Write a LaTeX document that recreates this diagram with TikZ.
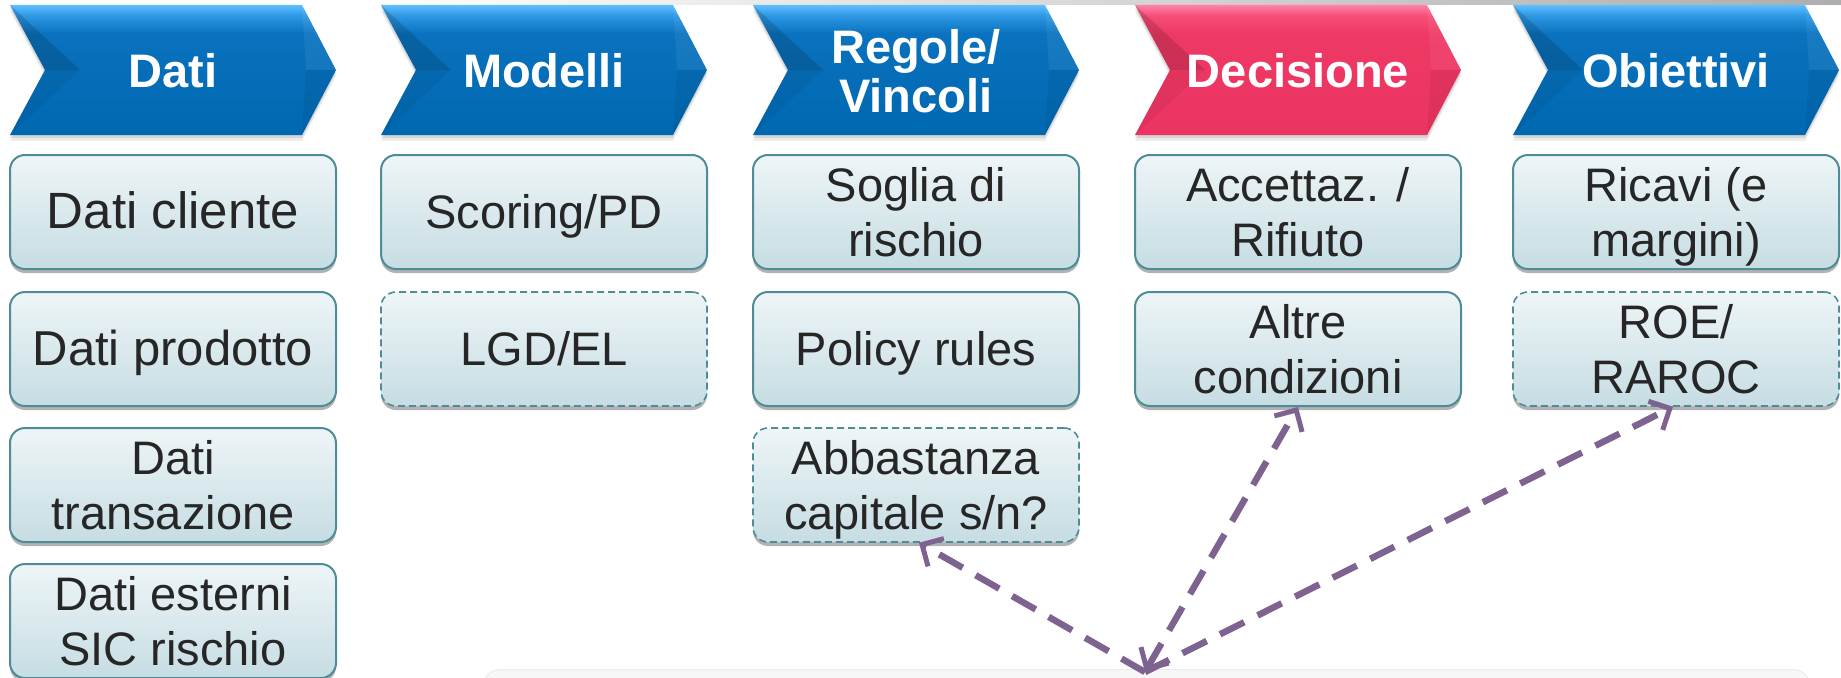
\documentclass[tikz,border=0pt]{standalone}
\usepackage{fontspec}
\setmainfont{Liberation Sans}
\usetikzlibrary{arrows.meta,shadows,calc}

\definecolor{bluetop}{HTML}{5FBFFF}
\definecolor{bluemid}{HTML}{2E98E4}
\definecolor{bluemain}{HTML}{0A72BE}
\definecolor{bluelow}{HTML}{0068B0}
\definecolor{pinktop}{HTML}{FF82AA}
\definecolor{pinkmid}{HTML}{F54E78}
\definecolor{pinkmain}{HTML}{EF3965}
\definecolor{pinklow}{HTML}{EB3461}
\definecolor{boxtop}{HTML}{EEF5F7}
\definecolor{boxbot}{HTML}{C6DDE3}
\definecolor{boxline}{HTML}{4E8C97}
\definecolor{boxtext}{HTML}{262626}
\definecolor{linkc}{HTML}{7E628F}

% glossy band along the top edge of the step arrows
\pgfdeclareverticalshading{bluechev}{100bp}{color(0bp)=(bluelow); color(25bp)=(bluelow);
  color(64bp)=(bluemain); color(71bp)=(bluemid); color(75bp)=(bluetop); color(100bp)=(bluetop)}
\pgfdeclareverticalshading{pinkchev}{100bp}{color(0bp)=(pinklow); color(25bp)=(pinklow);
  color(64bp)=(pinkmain); color(71bp)=(pinkmid); color(75bp)=(pinktop); color(100bp)=(pinktop)}

% a text line whose box is exactly one cap height tall
\newcommand\capl[1]{\rule{0pt}{33pt}\smash{#1}}

% step arrow: #1 left edge, #2 node name, #3 label, #4 shading
\newcommand\stepchevron[4]{%
  \begin{scope}[shift={(#1,0)}]
    \fill[black, opacity=.07] (0,11) -- (292,11) -- (326,76) -- (292,141) -- (0,141) -- (35,76) -- cycle;
    \fill[black, opacity=.10] (0,8) -- (292,8) -- (326,73) -- (292,138) -- (0,138) -- (35,73) -- cycle;
    \shade[shading=#4] (0,5) -- (292,5) -- (326,70) -- (292,135) -- (0,135) -- (35,70) -- cycle;
    \fill[black, opacity=.14] (0,5) -- (35,70) -- (70,70) -- cycle;
    \fill[black, opacity=.05] (0,135) -- (35,70) -- (70,70) -- cycle;
    \fill[white, opacity=.06] (292,5) -- (326,70) -- (296,70) -- cycle;
    \fill[black, opacity=.06] (292,135) -- (326,70) -- (296,70) -- cycle;
    \node[steplabel] (#2) at (163,71) {#3};
  \end{scope}}

\begin{document}
\begin{tikzpicture}[x=1pt, y=-1pt,
  steplabel/.style={text=white, inner sep=0pt, align=center,
    font=\fontsize{47}{49}\selectfont\bfseries},
  box/.style={rounded corners=15pt, draw=boxline, line width=2pt,
    top color=boxtop, bottom color=boxbot, text=boxtext,
    minimum width=326pt, minimum height=114pt, inner sep=0pt, align=center,
    font=\fontsize{47}{55}\selectfont,
    drop shadow={shadow xshift=0pt, shadow yshift=-4pt, opacity=.3, fill=black}},
  dbox/.style={box, line width=1.6pt, dash pattern=on 7pt off 4pt},
  big/.style={font=\fontsize{51}{55}\selectfont},
  mid/.style={font=\fontsize{49}{55}\selectfont},
  tip/.tip={Straight Barb[length=16pt, width=32pt, line width=5pt]},
  link/.style={draw=linkc, line width=6.5pt, dash pattern=on 27pt off 15pt, -tip},
  panel/.style={rounded corners=18pt, fill=black!3, draw=black!8, line width=1pt,
    inner sep=0pt, anchor=north west}]

\useasboundingbox (0,0) rectangle (1841,677);
\clip (0,0) rectangle (1841,677);
\fill[white] (0,0) rectangle (1841,677);

% thin grey rule along the top edge
\shade[left color=white, right color=black!32] (380,0) rectangle (1841,4.5);

% process steps
\stepchevron{10}{hDati}{\capl{Dati}}{bluechev}
\stepchevron{381}{hModelli}{\capl{Modelli}}{bluechev}
\stepchevron{753}{hRegole}{\capl{Regole/}\\\capl{Vincoli}}{bluechev}
\stepchevron{1135}{hDecisione}{\capl{Decisione}}{pinkchev}
\stepchevron{1513}{hObiettivi}{\capl{Obiettivi}}{bluechev}

% column 1: data
\node[box, big] (dCli)   at (173,212) {\capl{Dati cliente}};
\node[box, mid] (dProd)  at (173,349) {\capl{Dati prodotto}};
\node[box] (dTrans) at (173,485) {\capl{Dati}\\\capl{transazione}};
\node[box] (dEst)   at (173,621) {\capl{Dati esterni}\\\capl{SIC rischio}};

% column 2: models
\node[box]  (mScore) at (544,212) {\capl{Scoring/PD}};
\node[dbox] (mLgd)   at (544,349) {\capl{LGD/EL}};

% column 3: rules and constraints
\node[box]  (rSoglia) at (916,212) {\capl{Soglia di}\\\capl{rischio}};
\node[box]  (rPol)    at (916,349) {\capl{Policy rules}};
\node[dbox] (rAbb)    at (916,485) {\capl{Abbastanza}\\\capl{capitale s/n?}};

% column 4: decision
\node[box] (cAcc)   at (1298,212) {\capl{Accettaz. /}\\\capl{Rifiuto}};
\node[box] (cAltre) at (1298,349) {\capl{Altre}\\\capl{condizioni}};

% column 5: objectives
\node[box]  (oRic) at (1676,212) {\capl{Ricavi (e}\\\capl{margini)}};
\node[dbox] (oRoe) at (1676,349) {\capl{ROE/}\\\capl{RAROC}};

% note panel at the bottom
\node[panel, minimum width=1328pt, minimum height=80pt] (note) at (482,669) {};
\coordinate (hub) at (1145,672);

% dashed links from the note
\draw[link] (hub) -- ($(rAbb.south)+(3,0)$);
\draw[link, tip-tip] (hub) -- (cAltre.south);
\draw[link] (hub) -- ($(oRoe.south)+(-3,0)$);
\end{tikzpicture}
\end{document}
